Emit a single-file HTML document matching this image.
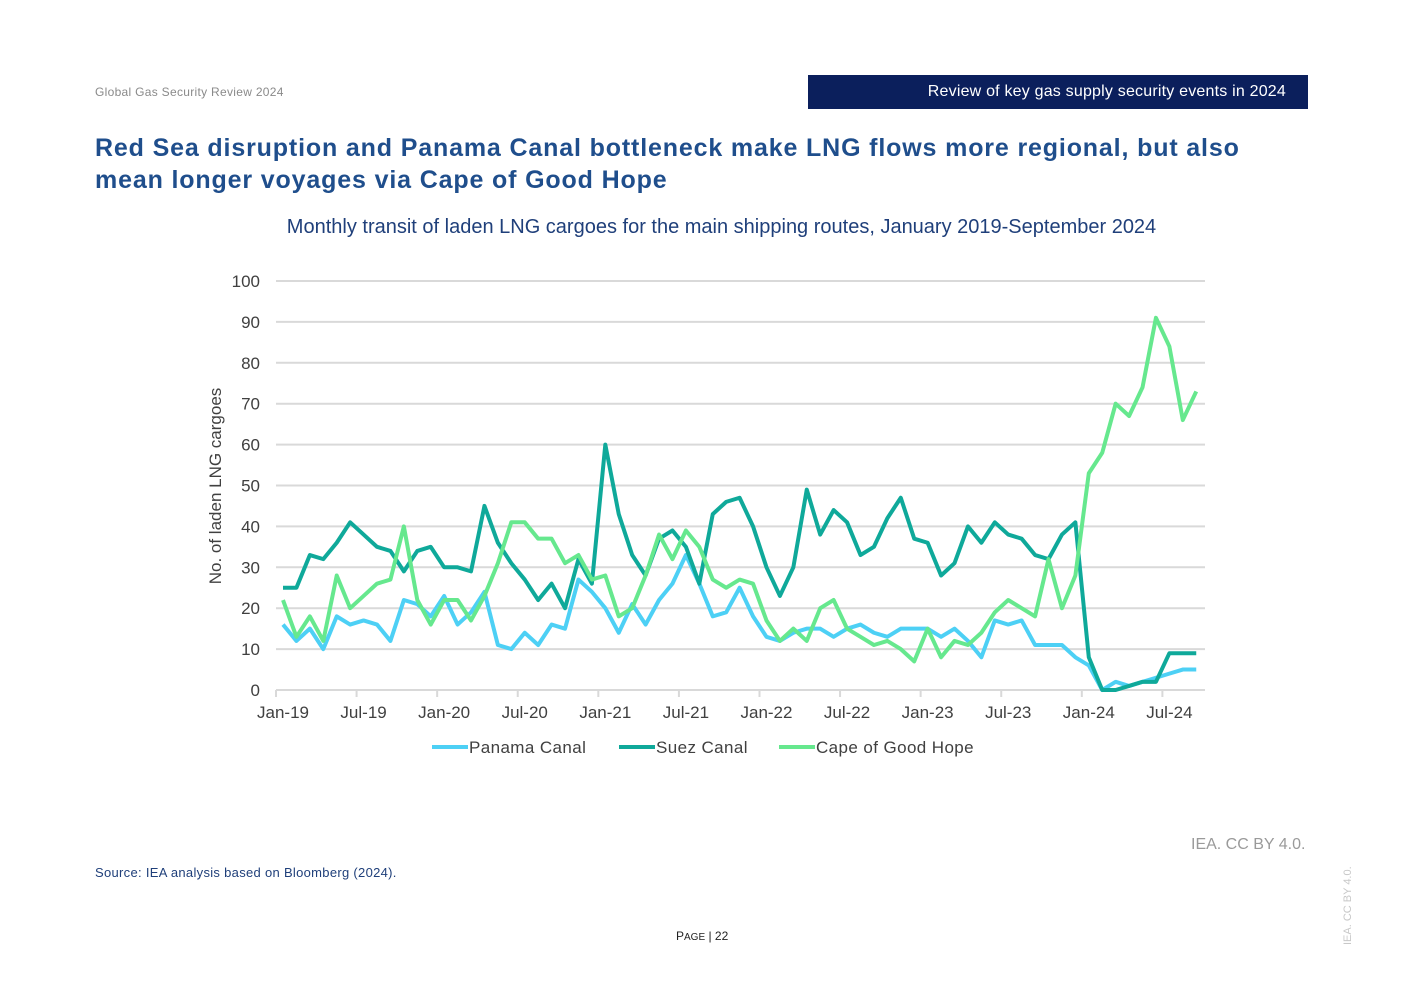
<!DOCTYPE html>
<html><head><meta charset="utf-8"><style>
body{margin:0;background:#fff;font-family:"Liberation Sans",sans-serif;}
.pg{position:relative;width:1403px;height:992px;overflow:hidden;}
.abs{position:absolute;}
</style></head><body><div class="pg">
<div class="abs" style="left:95px;top:85px;font-size:12px;color:#8a8a8a;letter-spacing:0.3px;">Global Gas Security Review 2024</div>
<div class="abs" style="left:808px;top:75px;width:500px;height:34px;background:#0b1f5c;color:#fff;font-size:16px;line-height:34px;text-align:right;box-sizing:border-box;padding-right:22px;letter-spacing:0.2px;">Review of key gas supply security events in 2024</div>
<div class="abs" style="left:95px;top:132px;width:1200px;font-size:25px;font-weight:bold;color:#1f4e8c;line-height:32px;letter-spacing:0.85px;">Red Sea disruption and Panama Canal bottleneck make LNG flows more regional, but also mean longer voyages via Cape of Good Hope</div>
<div class="abs" style="left:0;width:1443px;top:216px;text-align:center;font-size:20px;color:#1f3f7a;">Monthly transit of laden LNG cargoes for the main shipping routes, January 2019-September 2024</div>
<svg class="abs" style="left:0;top:0" width="1403" height="992" id="chart"></svg>
<div class="abs" style="left:1191px;top:836px;font-size:16px;color:#9a9a9a;">IEA. CC BY 4.0.</div>
<div class="abs" style="left:95px;top:865px;font-size:13px;color:#1f3f7a;letter-spacing:0.3px;">Source: IEA analysis based on Bloomberg (2024).</div>
<div class="abs" style="left:676px;top:929px;font-size:12px;color:#222;">P<span style="font-size:10px">AGE</span> | 22</div>
<div class="abs" style="left:1342px;top:945px;font-size:11px;color:#c8c8c8;transform:rotate(-90deg);transform-origin:0 0;white-space:nowrap;">IEA. CC BY 4.0.</div>
</div>
<script>
const categories=["Jan-19","Jul-19","Jan-20","Jul-20","Jan-21","Jul-21","Jan-22","Jul-22","Jan-23","Jul-23","Jan-24","Jul-24"];
const yTicks=[0,10,20,30,40,50,60,70,80,90,100];
const panama=[16,12,15,10,18,16,17,16,12,22,21,18,23,16,19,24,11,10,14,11,16,15,27,24,20,14,21,16,22,26,33,26,18,19,25,18,13,12,14,15,15,13,15,16,14,13,15,15,15,13,15,12,8,17,16,17,11,11,11,8,6,0,2,1,2,3,4,5,5];
const suez=[25,25,33,32,36,41,38,35,34,29,34,35,30,30,29,45,36,31,27,22,26,20,32,26,60,43,33,28,37,39,35,26,43,46,47,40,30,23,30,49,38,44,41,33,35,42,47,37,36,28,31,40,36,41,38,37,33,32,38,41,8,0,0,1,2,2,9,9,9];
const cape=[22,13,18,12,28,20,23,26,27,40,22,16,22,22,17,23,31,41,41,37,37,31,33,27,28,18,20,28,38,32,39,35,27,25,27,26,17,12,15,12,20,22,15,13,11,12,10,7,15,8,12,11,14,19,22,20,18,32,20,28,53,58,70,67,74,91,84,66,73];
const svg=document.getElementById('chart');const NS='http://www.w3.org/2000/svg';
const x=i=>283+i*13.43, y=v=>690-v*4.09;
function mk(t,a,p){const e=document.createElementNS(NS,t);for(const k in a)e.setAttribute(k,a[k]);(p||svg).appendChild(e);return e;}
yTicks.forEach(v=>{
 const g=mk('line',{x1:276,x2:1205,y1:y(v),y2:y(v),stroke:'#d9d9d9','stroke-width':2});
 
 
 const t=mk('text',{x:260,y:y(v)+6,'text-anchor':'end','font-size':17,fill:'#404040','font-family':'Liberation Sans'});t.textContent=v;
 
 
});
categories.forEach((c,k)=>{
 const tk=mk('line',{x1:x(k*6)-7,x2:x(k*6)-7,y1:690,y2:697,stroke:'#d9d9d9','stroke-width':2});
 
 
 const t=mk('text',{x:x(k*6),y:718,'text-anchor':'middle','font-size':17,fill:'#404040','font-family':'Liberation Sans'});t.textContent=c;
 
 
});
const yt=mk('text',{transform:'translate(221,486) rotate(-90)','text-anchor':'middle','font-size':17,fill:'#404040','font-family':'Liberation Sans'});yt.textContent='No. of laden LNG cargoes';


const series=[[panama,'#4dd0f5','panama-canal-line'],[suez,'#0fa99a','suez-canal-line'],[cape,'#66e88e','cape-of-good-hope-line']];
series.forEach(([d,c,n])=>{
 const p=mk('polyline',{points:d.map((v,i)=>x(i)+','+y(v)).join(' '),fill:'none',stroke:c,'stroke-width':4,'stroke-linejoin':'round'});
 
 
});
const legend=[['Panama Canal','#4dd0f5',432],['Suez Canal','#0fa99a',619],['Cape of Good Hope','#66e88e',779]];
legend.forEach(([l,c,lx])=>{
 const g=mk('g',{});
 
 
 mk('line',{x1:lx,x2:lx+36,y1:747,y2:747,stroke:c,'stroke-width':4},g);
 const t=mk('text',{x:lx+37,y:753,'font-size':17,fill:'#404040','font-family':'Liberation Sans','letter-spacing':'0.4'},g);t.textContent=l;
});
</script></body></html>
